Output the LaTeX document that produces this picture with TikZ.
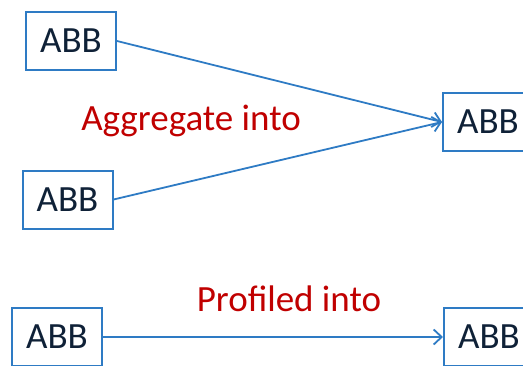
\documentclass[tikz,border=0pt]{standalone}
\usepackage{fontspec}
\setmainfont{Carlito}
\usetikzlibrary{arrows.meta}
\definecolor{boxblue}{HTML}{2E7BC4}
\definecolor{textnavy}{HTML}{0F2137}
\definecolor{labelred}{HTML}{C00000}
\begin{document}
\begin{tikzpicture}[x=1pt,y=-1pt,
    abb/.style={draw=boxblue,line width=2pt,minimum width=90pt,minimum height=58pt,
      text=textnavy,font=\fontsize{37}{40}\selectfont,inner sep=0pt},
    link/.style={draw=boxblue,line width=1.8pt,-{Straight Barb[length=8pt,width=15pt,line width=1.8pt]}},
    lbl/.style={text=labelred,font=\fontsize{37}{40}\selectfont}]
        \clip (0,0) rectangle (523,365);
        \node[abb] (top) at (71,41) {ABB};
        \node[abb] (mid) at (67.5,199.5) {ABB};
        \node[abb] (sum) at (488,122) {ABB};
        \node[abb] (src) at (57,337) {ABB};
        \node[abb] (dst) at (489,337) {ABB};
        \draw[link] (top.east) -- (sum.west);
        \draw[link] (mid.east) -- (sum.west);
        \draw[link] (src) -- (dst);
        \node[lbl] (agg) at (191,121) {Aggregate into};
        \node[lbl] (prof) at (289,299) {Profiled into};
    \end{tikzpicture}
\end{document}
